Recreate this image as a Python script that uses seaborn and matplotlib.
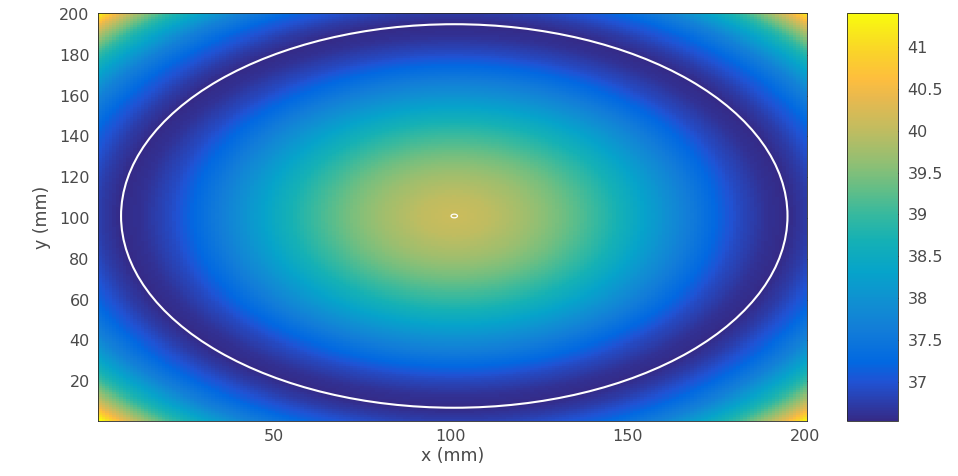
import numpy as np
import pandas as pd
import matplotlib
matplotlib.use("Agg")
import matplotlib.pyplot as plt
import seaborn as sns
from matplotlib.colors import LinearSegmentedColormap
from matplotlib.patches import Circle
from matplotlib.ticker import FormatStrFormatter

# Radial temperature profile measured from the plate centre
radius_mm = [0, 10, 20, 30, 40, 50, 60, 70, 80, 88, 94, 100, 108, 116, 122, 128, 133, 137, 141.4]
temperature = [40.12, 40.00, 39.75, 39.42, 39.00, 38.50, 37.95, 37.42, 36.90, 36.62, 36.53,
               36.74, 37.15, 37.70, 38.30, 38.95, 39.70, 40.40, 41.41]

center_mm = (101, 101)
ring_radius_mm = 94
dot_radius_mm = 0.9

x_ticks = [50, 100, 150, 200]
y_ticks = [20, 40, 60, 80, 100, 120, 140, 160, 180, 200]
cbar_ticks = [37, 37.5, 38, 38.5, 39, 39.5, 40, 40.5, 41]
color_limits = (36.53, 41.41)

# parula-like colour map
parula_pts = [
    (0.2081, 0.1663, 0.5292), (0.1253, 0.3242, 0.8303), (0.0060, 0.4086, 0.8828),
    (0.0723, 0.4887, 0.8467), (0.0641, 0.5570, 0.8240), (0.0231, 0.6418, 0.7913),
    (0.0843, 0.6928, 0.7062), (0.2178, 0.7250, 0.6193), (0.3953, 0.7459, 0.5244),
    (0.5709, 0.7485, 0.4494), (0.7525, 0.7384, 0.3768), (0.9139, 0.7258, 0.3063),
    (0.9938, 0.7455, 0.2403), (0.9789, 0.8271, 0.1633), (0.9763, 0.9831, 0.0538),
]
parula_idx = [0, 6, 9, 14, 18, 23, 28, 32, 36, 40, 45, 50, 53, 57, 63]
parula = LinearSegmentedColormap.from_list(
    "parula", [(i / 63, c) for i, c in zip(parula_idx, parula_pts)], N=256)

# temperature field on a 1 mm grid (rows from y = 200 down to 1)
x_mm = np.arange(1, 201)
y_mm = np.arange(200, 0, -1)
X, Y = np.meshgrid(x_mm, y_mm)
R = np.hypot(X - center_mm[0], Y - center_mm[1])
field = np.interp(R, radius_mm, temperature)
df = pd.DataFrame(field, index=y_mm, columns=x_mm)

sns.set_style("white")
plt.rcParams["font.family"] = ["DejaVu Sans"]

W, H = 958, 476
fig = plt.figure(figsize=(W / 100, H / 100), dpi=100)
ax = fig.add_axes([98 / W, 55 / H, 709 / W, 408 / H])
cax = fig.add_axes([847 / W, 55 / H, 51 / W, 408 / H])

sns.heatmap(df, ax=ax, cbar_ax=cax, cmap=parula,
            vmin=color_limits[0], vmax=color_limits[1],
            xticklabels=False, yticklabels=False, rasterized=True)

# heatmap cell positions: x -> x - 0.5, y -> 200.5 - y
cx, cy = center_mm[0] - 0.5, 200.5 - center_mm[1]
ax.add_patch(Circle((cx, cy), ring_radius_mm, fill=False, ec="white", lw=1.5))
ax.add_patch(Circle((cx, cy), dot_radius_mm, fill=False, ec="white", lw=0.9))

txt = "#4a4a4a"
ax.set_xticks([v - 0.5 for v in x_ticks])
ax.set_xticklabels([str(v) for v in x_ticks])
ax.set_yticks([200.5 - v for v in y_ticks])
ax.set_yticklabels([str(v) for v in y_ticks], rotation=0)
ax.tick_params(direction="in", length=4, width=0.6, top=True, right=True,
               labelsize=11.5, labelcolor=txt, color="#262626", pad=6)
ax.set_xlabel("x (mm)", fontsize=12.5, color=txt, labelpad=2)
ax.set_ylabel("y (mm)", fontsize=12.5, color=txt, labelpad=6)
for s in ax.spines.values():
    s.set_visible(True)
    s.set_color("#262626")
    s.set_linewidth(0.6)

cb = ax.collections[0].colorbar
cb.set_ticks(cbar_ticks)
cb.ax.yaxis.set_major_formatter(FormatStrFormatter("%g"))
cb.ax.tick_params(direction="in", length=4, width=0.6, labelsize=11.5,
                  labelcolor=txt, color="#262626", pad=7)
cb.outline.set_visible(True)
cb.outline.set_edgecolor("#262626")
cb.outline.set_linewidth(0.6)

fig.savefig("out.png", dpi=100)
